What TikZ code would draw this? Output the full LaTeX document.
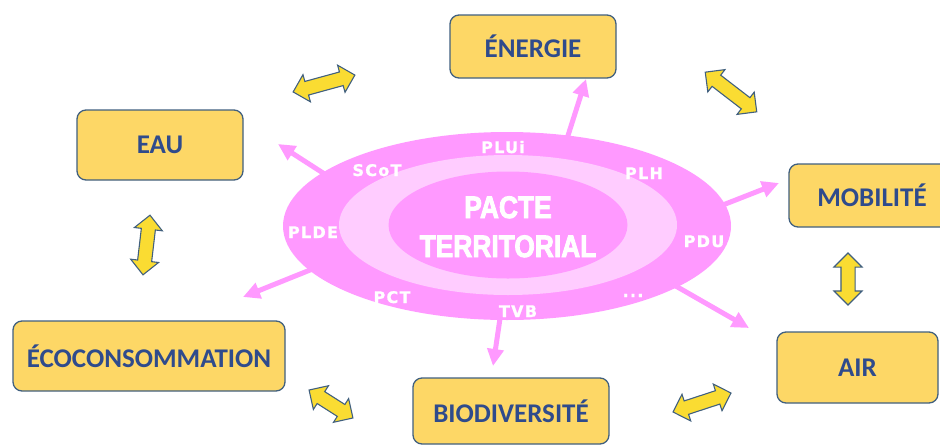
\documentclass[tikz,border=0pt]{standalone}
\usepackage{fontspec}
\usetikzlibrary{shapes.geometric,shapes.arrows,arrows.meta}
\newfontfamily\boxfont{Carlito Bold}
\newfontfamily\lblfont{DejaVu Sans Bold}[LetterSpace=8,FakeBold=1]
\newfontfamily\pactefont{Liberation Sans Bold}[FakeBold=3]
\definecolor{boxfill}{HTML}{FDD766}
\definecolor{boxline}{HTML}{41607F}
\definecolor{boxtext}{HTML}{2F4B8C}
\definecolor{dblfill}{HTML}{FADC32}
\definecolor{pinkA}{HTML}{FF99FF}
\definecolor{pinkB}{HTML}{FFCCFF}
\tikzset{
  themebox/.style={rectangle, rounded corners=9pt, draw=boxline, line width=1.3pt,
    fill=boxfill, text=boxtext, font=\boxfont\fontsize{27}{30}\selectfont, inner sep=0pt},
  dblarrow/.style={double arrow, draw=boxline, line width=1.1pt, fill=dblfill,
    inner xsep=0pt, inner ysep=6.5pt, double arrow head extend=7pt, double arrow tip angle=90},
  pinkarrow/.style={draw=pinkA, line width=5pt, -{Triangle[length=17pt,width=16pt]}},
  lbl/.style={text=white, font=\lblfont\fontsize{16}{18}\selectfont, anchor=base, inner sep=0pt},
  pacte/.style={text=white, font=\pactefont\fontsize{31}{34}\selectfont, anchor=base, inner sep=0pt, xscale=0.85},
}
\begin{document}
\begin{tikzpicture}[x=1pt,y=-1pt]
\useasboundingbox (0,0) rectangle (940,445);
\clip (0,0) rectangle (940,445);

% theme boxes
\node[themebox, minimum width=166pt, minimum height=63pt] (energie) at (533,46.5) {ÉNERGIE};
\node[themebox, minimum width=166pt, minimum height=70pt] (eau) at (160,145) {EAU};
\node[themebox, minimum width=166pt, minimum height=63pt] (mobilite) at (872,195.5) {MOBILITÉ};
\node[themebox, minimum width=161pt, minimum height=71pt] (air) at (857.5,367.5) {AIR};
\node[themebox, minimum width=272pt, minimum height=70pt] (eco) at (149,356) {ÉCOCONSOMMATION};
\node[themebox, minimum width=196pt, minimum height=66pt] (bio) at (511,411) {BIODIVERSITÉ};

% yellow double arrows
\node[dblarrow, minimum height=64pt, rotate=15.3] (d1) at (324,83.5) {};
\node[dblarrow, minimum height=65pt, rotate=-37.6] (d2) at (731,92) {};
\node[dblarrow, minimum height=60pt, rotate=83.3] (d3) at (146.5,245) {};
\node[dblarrow, minimum height=52pt, rotate=90] (d4) at (848,279) {};
\node[dblarrow, minimum height=52pt, rotate=-32.5] (d5) at (331,404) {};
\node[dblarrow, minimum height=61pt, rotate=18.1] (d6) at (702,402.5) {};

% pink arrows (start inside the ellipse)
\coordinate (sE) at (565,145);  \coordinate (tE) at (586,79);
\coordinate (sW) at (337,182);  \coordinate (tW) at (278,144);
\coordinate (sM) at (705,212);  \coordinate (tM) at (779,183);
\coordinate (sC) at (325,264);  \coordinate (tC) at (243,297);
\coordinate (sA) at (660,277);  \coordinate (tA) at (749,328);
\coordinate (sB) at (502,305);  \coordinate (tB) at (493,366);
\draw[pinkarrow] (sE) -- (tE);
\draw[pinkarrow] (sW) -- (tW);
\draw[pinkarrow] (sM) -- (tM);
\draw[pinkarrow] (sC) -- (tC);
\draw[pinkarrow] (sA) -- (tA);
\draw[pinkarrow] (sB) -- (tB);

% ellipses
\node[ellipse, fill=pinkA, inner sep=0pt, minimum width=448pt, minimum height=188pt] (outer) at (507,226) {};
\node[ellipse, fill=pinkB, inner sep=0pt, minimum width=338pt, minimum height=140pt] (middle) at (508,225) {};
\node[ellipse, fill=pinkA, inner sep=0pt, minimum width=239pt, minimum height=107pt] (inner) at (508,225) {};

% labels on the ring
\node[lbl] (plui) at (503,153) {PLUi};
\node[lbl] (scot) at (377,176) {SCoT};
\node[lbl] (plh) at (644,179) {PLH};
\node[lbl] (plde) at (313,238) {PLDE};
\node[lbl] (pdu) at (704,247) {PDU};
\node[lbl] (pct) at (392,303) {PCT};
\node[lbl] (tvb) at (518,317) {TVB};
\node[lbl] (etc) at (633,297) {...};

% centre text
\node[pacte] (p1) at (508,218) {PACTE};
\node[pacte] (p2) at (508,257) {TERRITORIAL};
\end{tikzpicture}
\end{document}
